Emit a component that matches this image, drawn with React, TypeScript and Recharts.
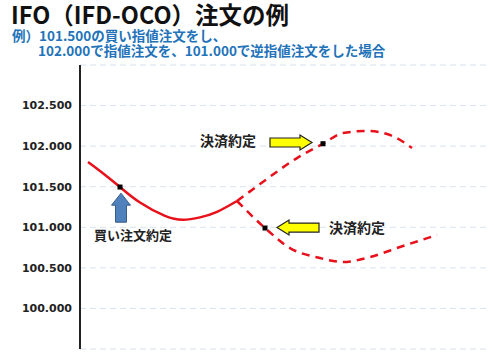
import { ComposedChart, Line, Scatter, XAxis, YAxis, CartesianGrid, ReferenceDot } from "recharts"

// price path, x is a time position, y is the rate
const solidX = [8, 20, 40, 60, 85, 103, 120, 137, 157]
const solidY = [101.804, 101.693, 101.496, 101.305, 101.14, 101.092, 101.122, 101.19, 101.324]

const upperX = [157, 180, 217, 243, 263, 287, 310, 332]
const upperY = [101.324, 101.533, 101.853, 102.03, 102.162, 102.187, 102.137, 101.977]

const lowerX = [157, 185, 210, 240, 263, 290, 320, 357]
const lowerY = [101.324, 100.991, 100.744, 100.621, 100.572, 100.633, 100.757, 100.905]

const markerX = [40, 243, 185]
const markerY = [101.496, 102.03, 100.991]

const yTicks = [100, 100.5, 101, 101.5, 102, 102.5]

const toRows = (xs: number[], ys: number[]) => xs.map((x, i) => ({ x, y: ys[i] }))

const solid = toRows(solidX, solidY)
const upper = toRows(upperX, upperY)
const lower = toRows(lowerX, lowerY)
const markers = toRows(markerX, markerY)

const RED = "#E8101A"
const JP = "'Noto Sans CJK JP', sans-serif"

const UpArrow = ({ cx, cy }: any) => (
  <polygon
    points={`${cx},${cy} ${cx + 9.5},${cy + 12} ${cx + 5.5},${cy + 12} ${cx + 5.5},${cy + 29} ${cx - 5.5},${cy + 29} ${cx - 5.5},${cy + 12} ${cx - 9.5},${cy + 12}`}
    fill="#4F81BD"
    stroke="#385D8A"
    strokeWidth={1}
  />
)

const SideArrow = ({ cx, cy, dir }: any) => {
  const d = dir
  const pts = [
    [0, 0], [-12, -7.5], [-12, -4.5], [-42, -4.5], [-42, 4.5], [-12, 4.5], [-12, 7.5],
  ].map(([dx, dy]) => `${cx + dx * d},${cy + dy}`).join(" ")
  return <polygon points={pts} fill="#FFFF00" stroke="#222" strokeWidth={1.2} />
}

const Label = ({ cx, cy, text, size }: any) => (
  <text x={cx} y={cy} dy="0.36em" fontFamily={JP} fontWeight={700} fontSize={size} fill="#222">
    {text}
  </text>
)

const Square = ({ cx, cy }: any) => <rect x={cx - 2.5} y={cy - 2.5} width={5} height={5} fill="#000" />

export default function App() {
  return (
    <div style={{ position: "absolute", left: 0, top: 0, width: 500, height: 355, background: "#fff" }}>
      <svg width={500} height={62} style={{ position: "absolute", left: 0, top: 0 }}>
        <text x={11} y={24} fontFamily={JP} fontWeight={700} fontSize={23.5} fill="#111">
          IFO（IFD-OCO）注文の例
        </text>
        <text x={12} y={41} fontFamily={JP} fontWeight={700} fontSize={13.5} fill="#2273B9">
          例）101.500の買い指値注文をし、
        </text>
        <text x={38} y={56} fontFamily={JP} fontWeight={700} fontSize={13.5} fill="#2273B9">
          102.000で指値注文を、101.000で逆指値注文をした場合
        </text>
      </svg>
      <ComposedChart width={500} height={355} margin={{ top: 65, right: 12, bottom: 6, left: 0 }}>
        <CartesianGrid vertical={false} stroke="#D8E2EE" strokeDasharray="6 4" strokeWidth={1} />
        <XAxis
          type="number"
          dataKey="x"
          domain={[0, 408]}
          tick={false}
          tickLine={false}
          height={0}
          axisLine={{ stroke: "#111", strokeWidth: 3 }}
        />
        <YAxis
          type="number"
          dataKey="y"
          domain={[99.5, 103]}
          ticks={yTicks}
          width={80}
          tickLine={false}
          tickFormatter={(v: number) => v.toFixed(3)}
          tick={{ fill: "#222", fontSize: 11, fontWeight: 700, fontFamily: "'DejaVu Sans', sans-serif" }}
          axisLine={{ stroke: "#222", strokeWidth: 2 }}
        />
        <Line data={solid} dataKey="y" type="natural" stroke={RED} strokeWidth={2.5} dot={false} isAnimationActive={false} />
        <Line data={upper} dataKey="y" type="monotone" stroke={RED} strokeWidth={2.5} strokeDasharray="8 6" dot={false} isAnimationActive={false} />
        <Line data={lower} dataKey="y" type="monotone" stroke={RED} strokeWidth={2.5} strokeDasharray="8 6" dot={false} isAnimationActive={false} />
        <Scatter data={markers} dataKey="y" shape={<Square />} isAnimationActive={false} />
        <ReferenceDot x={41} y={101.42} shape={<UpArrow />} />
        <ReferenceDot x={232} y={102.045} shape={<SideArrow dir={1} />} />
        <ReferenceDot x={197} y={100.997} shape={<SideArrow dir={-1} />} />
        <ReferenceDot x={120} y={102.06} shape={<Label text="決済約定" size={14} />} />
        <ReferenceDot x={249} y={100.99} shape={<Label text="決済約定" size={14} />} />
        <ReferenceDot x={14} y={100.905} shape={<Label text="買い注文約定" size={13} />} />
      </ComposedChart>
    </div>
  )
}
